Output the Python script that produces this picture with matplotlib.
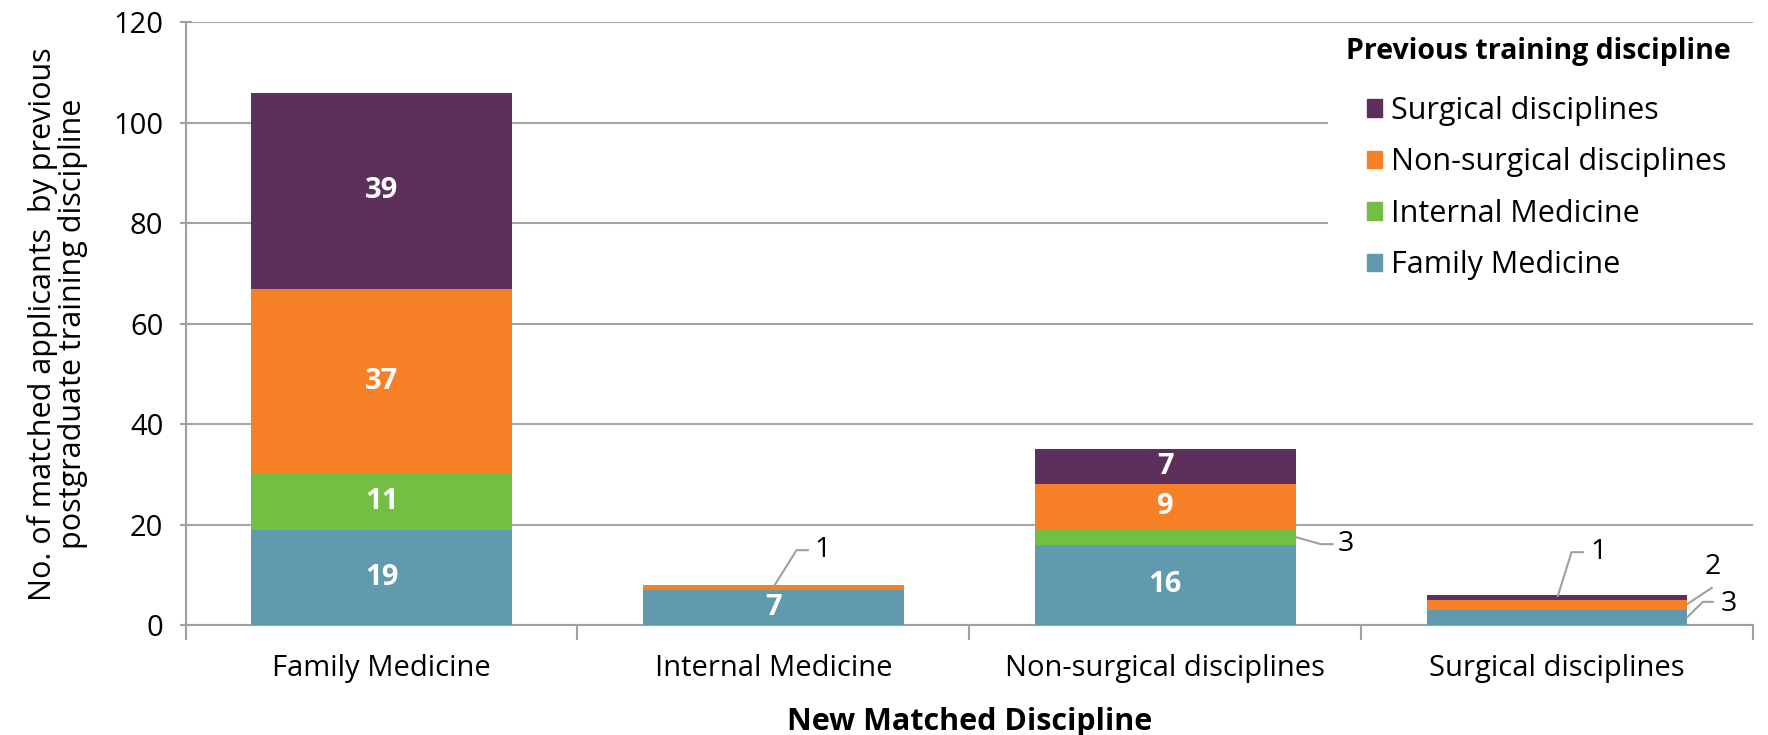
import matplotlib.pyplot as plt
from matplotlib.patches import Patch, Rectangle

plt.rcParams['font.family'] = ['Open Sans', 'DejaVu Sans']

categories = ["Family Medicine", "Internal Medicine", "Non-surgical disciplines", "Surgical disciplines"]
series_names = ["Family Medicine", "Internal Medicine", "Non-surgical disciplines", "Surgical disciplines"]
family_med = [19, 7, 16, 3]
internal_med = [11, 0, 3, 0]
non_surgical = [37, 1, 9, 2]
surgical = [39, 0, 7, 1]
colors = ["#6199ae", "#72bf44", "#f58025", "#5c2f5c"]

series = [family_med, internal_med, non_surgical, surgical]

fig = plt.figure(figsize=(17.68, 7.35), dpi=100)
ax = fig.add_axes([0.105, 0.1497, 0.8865, 0.8197])

x = list(range(len(categories)))
bottoms = [0] * len(categories)
width = 0.665
for vals, col in zip(series, colors):
    ax.bar(x, vals, width, bottom=bottoms, color=col, zorder=3)
    for i, v in enumerate(vals):
        # big segments get labels inside the bar
        if v >= 7:
            ax.text(i, bottoms[i] + v / 2, str(v), ha='center', va='center',
                    color='white', fontsize=21, fontweight='bold', zorder=4)
    bottoms = [b + v for b, v in zip(bottoms, vals)]

# small segments: labels with leader lines
lc = "#a0a0a0"
def leader(pts, label, tx, ty, ha='left'):
    xs, ys = zip(*pts)
    ax.plot(xs, ys, color=lc, lw=1.5, zorder=5, clip_on=False)
    ax.text(tx, ty, label, ha=ha, va='center', fontsize=20.5, color='black')

leader([(1.003, 7.9), (1.059, 14.9), (1.088, 14.9)], str(non_surgical[1]), 1.105, 14.9)
leader([(2.333, 17.5), (2.397, 16.1), (2.427, 16.1)], str(internal_med[2]), 2.44, 16.1)
leader([(3.002, 5.8), (3.037, 14.5), (3.066, 14.5)], str(surgical[3]), 3.085, 14.6)
leader([(3.333, 4.2), (3.395, 7.4)], str(non_surgical[3]), 3.397, 11.6, ha='center')
leader([(3.333, 1.6), (3.372, 4.6), (3.397, 4.6)], str(family_med[3]), 3.418, 4.2)

ax.set_xlim(-0.5, 3.5)
ax.set_ylim(0, 120)
ax.set_yticks(range(0, 121, 20))
ax.yaxis.grid(True, color="#a6a6a6", lw=1.5, zorder=0)
ax.set_xticks(x)
ax.set_xticklabels(categories, fontsize=21)
ax.set_xticks([-0.5, 0.5, 1.5, 2.5, 3.5], minor=True)
ax.tick_params(axis='x', which='major', length=0, pad=21)
ax.tick_params(axis='x', which='minor', length=11, width=1.5, color="#a0a0a0", direction='out')
ax.tick_params(axis='y', length=8, width=1.5, color="#a0a0a0", direction='inout', labelsize=21, pad=12)

for s in ['top', 'right']:
    ax.spines[s].set_visible(False)
for s in ['left', 'bottom']:
    ax.spines[s].set_color("#a0a0a0")
    ax.spines[s].set_linewidth(1.5)

ax.set_ylabel("No. of matched applicants  by previous\npostgraduate training discipline",
              fontsize=22, labelpad=18, linespacing=1.0)
ax.set_xlabel("New Matched Discipline", fontsize=22, fontweight='bold', labelpad=17)

# white box behind the legend hides the gridlines there
ax.add_patch(Rectangle((1328 / 1768, 1 - 290 / 735), 440 / 1768, 255 / 735,
                       transform=fig.transFigure, facecolor='white', edgecolor='none',
                       zorder=2, clip_on=False))
ax.text(1731 / 1768, 1 - 51 / 735, "Previous training discipline", transform=fig.transFigure,
        ha='right', va='center', fontsize=20.5, fontweight='bold', zorder=7)

handles = [Patch(color=c, label=n) for c, n in zip(colors, series_names)][::-1]
leg = ax.legend(handles=handles, loc='upper left', bbox_to_anchor=(1367 / 1768, 1 - 96 / 735),
                bbox_transform=fig.transFigure, frameon=False, fontsize=22,
                handlelength=0.5, handleheight=0.5, handletextpad=0.3,
                labelspacing=0.7, borderpad=0, borderaxespad=0)
leg.set_zorder(6)

fig.savefig("out.png", dpi=100)
